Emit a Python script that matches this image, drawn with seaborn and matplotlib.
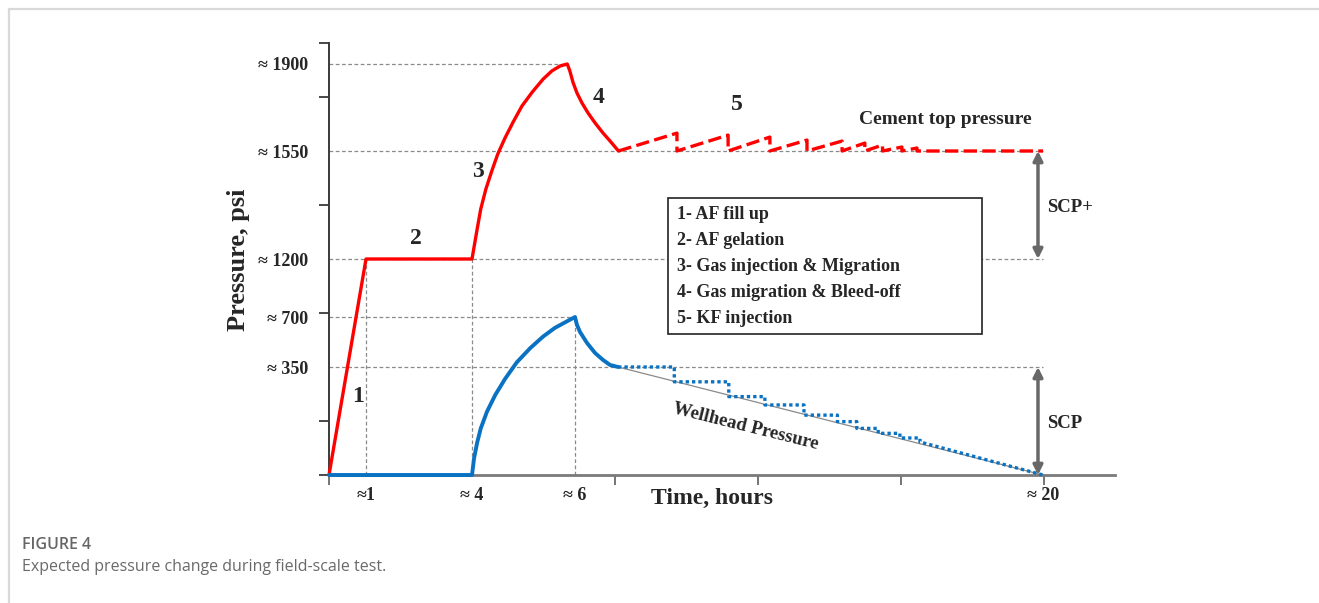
import numpy as np
import seaborn as sns
import matplotlib.pyplot as plt
from matplotlib.lines import Line2D
from matplotlib.patches import Rectangle

# sketched axes are not linear: value -> offset (px) along the axis
HOURS_KNOTS = [0, 1, 4, 6, 20, 30]
HOURS_PX = [0, 37, 143, 246, 714, 1048]
PSI_KNOTS = [0, 350, 700, 1200, 1550, 1900, 2500]
PSI_PX = [0, 108, 158, 216, 324, 411, 560]

# cement top pressure (red), phases 1-4
red_t = [0, 1, 4, 4.1, 4.17, 4.27, 4.39, 4.5, 4.64, 4.8, 4.97, 5.17, 5.38, 5.55,
         5.71, 5.85, 5.9, 5.96, 6.06, 6.21, 6.39, 6.6, 6.84, 7.05, 7.3]
red_p = [0, 1200, 1200, 1297, 1362, 1427, 1488, 1540, 1602, 1667, 1731, 1787, 1839, 1872,
         1892, 1900, 1872, 1827, 1783, 1743, 1703, 1663, 1622, 1590, 1550]
# phase 5 on the red curve: saw teeth over the 1550 psi level
kf_t = [9.05, 10.58, 11.83, 12.94, 13.99, 14.67, 15.2, 15.78, 16.23]
kf_peak = [1622, 1614, 1606, 1594, 1590, 1582, 1574, 1566, 1562]
scp_plus = 1550

# wellhead pressure (blue)
blue_t = [0, 4, 4.04, 4.1, 4.17, 4.29, 4.45, 4.64, 4.87, 5.13, 5.38, 5.61, 5.83, 6.0,
          6.06, 6.15, 6.36, 6.6, 6.84, 7.05, 7.29]
blue_p = [0, 0, 54, 105, 151, 205, 259, 311, 383, 482, 563, 624, 667, 700,
          644, 595, 518, 448, 399, 364, 350]
# phase 5 on the blue curve: step downs
step_t = [8.97, 10.6, 11.68, 12.85, 13.85, 14.43, 15.07, 15.72, 16.32]
step_p = [302, 254, 227, 194, 173, 151, 135, 120, 107]
end_t = 20

y_labels = [350, 700, 1200, 1550, 1900]
x_labels = [1, 4, 6, 20]
x_label_text = ['≈1', '≈ 4', '≈ 6', '≈ 20']
phases = ['1- AF fill up', '2- AF gelation', '3- Gas injection & Migration',
          '4- Gas migration & Bleed-off', '5- KF injection']

RED = '#ff0000'
BLUE = '#0a72c2'
GRID = '#8a8a8a'
ARROW = '#686868'


def fwd_t(t):
    return np.interp(t, HOURS_KNOTS, HOURS_PX)


def inv_t(u):
    return np.interp(u, HOURS_PX, HOURS_KNOTS)


def fwd_p(p):
    return np.interp(p, PSI_KNOTS, PSI_PX)


def inv_p(u):
    return np.interp(u, PSI_PX, PSI_KNOTS)


sns.set_theme(style='white')
plt.rcParams['font.family'] = ['Liberation Serif', 'DejaVu Serif']

fig = plt.figure(figsize=(13.19, 6.03), dpi=100)
ax = fig.add_axes([329 / 1319, 1 - 475 / 603, 786 / 1319, 432 / 603])

# build the saw tooth and stair lines from the read values
saw_t, saw_p = [red_t[-1]], [scp_plus]
for t, p in zip(kf_t, kf_peak):
    saw_t += [t, t]
    saw_p += [p, scp_plus]
saw_t.append(end_t)
saw_p.append(scp_plus)

stair_t, stair_p = [blue_t[-1]], [blue_p[-1]]
prev = blue_p[-1]
for t, p in zip(step_t, step_p):
    stair_t += [t, t]
    stair_p += [prev, p]
    prev = p
stair_t.append(end_t)
stair_p.append(0)

# reference dashed lines
dash = dict(color=GRID, lw=0.9, ls=(0, (3, 2)), zorder=1)
ax.plot([0, 5.85], [1900, 1900], **dash)
ax.plot([0, end_t], [1550, 1550], **dash)
ax.plot([0, end_t], [1200, 1200], **dash)
ax.plot([0, 6], [700, 700], **dash)
ax.plot([0, end_t], [350, 350], **dash)
ax.plot([1, 1], [0, 1200], **dash)
ax.plot([4, 4], [0, 1200], **dash)
ax.plot([6, 6], [0, 700], **dash)
ax.plot([blue_t[-1], end_t], [blue_p[-1], 0], color=GRID, lw=0.9, zorder=1)

sns.lineplot(x=red_t, y=red_p, sort=False, estimator=None, color=RED, lw=2.4,
             ax=ax, zorder=3, clip_on=False)
sns.lineplot(x=saw_t, y=saw_p, sort=False, estimator=None, color=RED, lw=2.4,
             linestyle=(0, (4, 1.6)), ax=ax, zorder=3)
sns.lineplot(x=blue_t, y=blue_p, sort=False, estimator=None, color=BLUE, lw=2.8,
             ax=ax, zorder=3, clip_on=False)
sns.lineplot(x=stair_t, y=stair_p, sort=False, estimator=None, color=BLUE, lw=2.4,
             linestyle=(0, (1, 0.9)), ax=ax, zorder=3, clip_on=False)

ax.set_xscale('function', functions=(fwd_t, inv_t))
ax.set_yscale('function', functions=(fwd_p, inv_p))
ax.set_xlim(0, inv_t(786))
ax.set_ylim(0, inv_p(432))

for s in ['top', 'right']:
    ax.spines[s].set_visible(False)
ax.spines['left'].set_color('#3a3a3a')
ax.spines['left'].set_linewidth(1.4)
ax.spines['bottom'].set_color('#7a7a7a')
ax.spines['bottom'].set_linewidth(2)

ax.set_xticks(x_labels)
ax.set_xticklabels(x_label_text, fontsize=13, fontweight='bold')
ax.set_xticks(inv_t(np.arange(0, 786, 143)), minor=True)
ax.set_yticks(y_labels)
ax.set_yticklabels([f'≈ {v}' for v in y_labels], fontsize=13, fontweight='bold')
ax.set_yticks(inv_p(np.arange(0, 433, 54)), minor=True)
ax.tick_params(axis='x', which='major', length=0, pad=9, bottom=True)
ax.tick_params(axis='y', which='major', length=0, pad=15, left=True)
ax.tick_params(axis='x', which='minor', length=7, width=1.3, color='#6a6a6a',
               direction='out', bottom=True)
ax.tick_params(axis='y', which='minor', length=7, width=1.3, color='#3a3a3a',
               direction='out', left=True)
ax.grid(False)

ax.set_xlabel('Time, hours', fontsize=17, fontweight='bold')
ax.xaxis.set_label_coords(0.487, -0.03)
ax.set_ylabel('Pressure, psi', fontsize=19, fontweight='bold')
ax.yaxis.set_label_coords(-0.10, 0.498)

# phase numbers
num = dict(fontsize=17, fontweight='bold', ha='center', va='center')
ax.text(0.78, 253, '1', **num)
ax.text(2.42, 1268, '2', **num)
ax.text(4.12, 1482, '3', **num)
ax.text(6.69, 1767, '4', **num)
ax.text(10.85, 1739, '5', **num)
ax.text(17.07, 1675, 'Cement top pressure', fontsize=14, fontweight='bold',
        ha='center', va='center')
ax.text(11.09, 156, 'Wellhead Pressure', fontsize=13.5, fontweight='bold',
        ha='center', va='center', rotation=-14)

# phase box
ax.add_patch(Rectangle((0.4313, 0.3264), 0.3995, 0.3148, transform=ax.transAxes,
                       facecolor='white', edgecolor='#222222', lw=1.2, zorder=5))
for i, line in enumerate(phases):
    ax.text(0.4427, 0.604 - i * 0.0602, line, transform=ax.transAxes, fontsize=13,
            fontweight='bold', ha='left', va='center', zorder=6)

# SCP arrows
arr = dict(arrowstyle='<|-|>', color=ARROW, lw=2.5, mutation_scale=14,
           shrinkA=0, shrinkB=0)
ax.annotate('', xy=(19.85, 1200), xytext=(19.85, 1550), arrowprops=arr)
ax.annotate('', xy=(19.85, 0), xytext=(19.85, 350), arrowprops=arr)
ax.text(20.12, 1368, 'SCP+', fontsize=13.5, fontweight='bold', ha='left', va='center')
ax.text(20.12, 168, 'SCP', fontsize=13.5, fontweight='bold', ha='left', va='center')

# page frame and caption
fig.add_artist(Line2D([9 / 1319, 1], [1 - 9 / 603] * 2, transform=fig.transFigure,
                      color='#d9d9d9', lw=1.6))
fig.add_artist(Line2D([9 / 1319] * 2, [0, 1 - 9 / 603], transform=fig.transFigure,
                      color='#d9d9d9', lw=1.6))
fig.text(22 / 1319, 1 - 545 / 603, 'FIGURE 4', fontsize=11.5, fontweight='semibold',
         color='#666666', family=['Open Sans', 'DejaVu Sans'], va='center')
fig.text(22 / 1319, 1 - 567 / 603, 'Expected pressure change during field-scale test.',
         fontsize=11.5, color='#6a6a6a', family=['Open Sans', 'DejaVu Sans'], va='center')

fig.savefig('out.png', dpi=100)
